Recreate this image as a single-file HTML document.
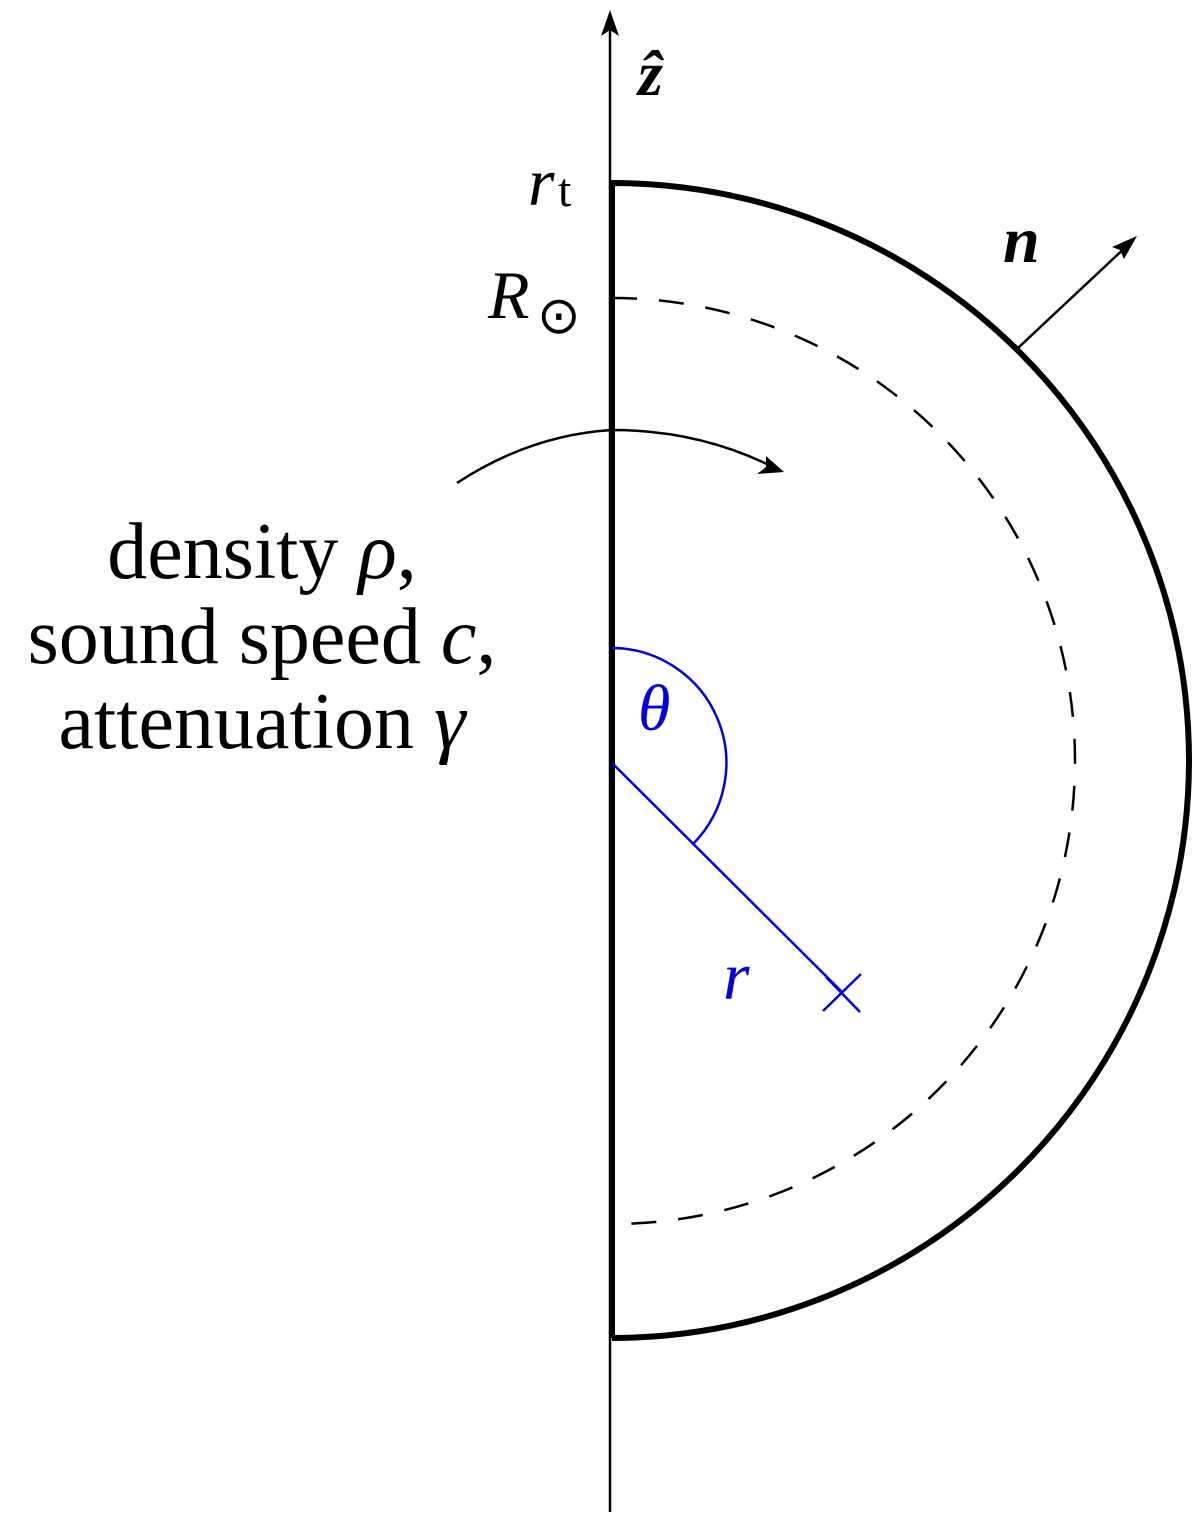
<!DOCTYPE html>
<html><head><style>
html,body{margin:0;padding:0;background:#fff;}
svg{display:block;}
text{font-family:"Liberation Serif","Times New Roman",serif;}
</style></head><body>
<svg width="1200" height="1519" viewBox="0 0 1200 1519" xmlns="http://www.w3.org/2000/svg">
<!-- axis -->
<line x1="610" y1="1512" x2="610" y2="20" stroke="#000" stroke-width="2.5"/>
<polygon points="610,10 601,36 610,30 619,36" fill="#000"/>
<!-- thick boundary -->
<path d="M612,1338 L612,183 A578,578 0 0 1 1189,760.5 A578,578 0 0 1 612,1338" fill="none" stroke="#000" stroke-width="6"/>
<!-- dashed R sun -->
<path d="M612,298 A463,463 0 0 1 1075,761 A463,463 0 0 1 612,1224" fill="none" stroke="#000" stroke-width="2.5" stroke-dasharray="25,22"/>
<!-- normal arrow -->
<line x1="1018" y1="348" x2="1130" y2="243" stroke="#000" stroke-width="2.5"/>
<polygon points="1137,236 1112,247 1120,250 1124,259" fill="#000"/>
<!-- rotation arc -->
<path d="M457,483 Q530,435 612,430 Q700,430 775,468" fill="none" stroke="#000" stroke-width="2.5"/>
<polygon points="784,472 757,474 766,467 766,456" fill="#000"/>
<!-- blue -->
<line x1="612" y1="763" x2="843" y2="993" stroke="#0000e0" stroke-width="2.5"/>
<path d="M612,648 A115,115 0 0 1 693,844" fill="none" stroke="#0000e0" stroke-width="2.5"/>
<line x1="823" y1="1011" x2="861" y2="974" stroke="#0000e0" stroke-width="2.5"/>
<line x1="826" y1="977" x2="860" y2="1012" stroke="#0000e0" stroke-width="2.5"/>
<!-- labels -->
<text x="638" y="95" font-size="64" font-style="italic" font-weight="bold" font-family="Liberation Serif, serif">ẑ</text>
<text x="528" y="205" font-size="68" font-style="italic" font-family="Liberation Serif, serif">r</text>
<text x="558" y="206" font-size="48" font-family="Liberation Serif, serif">t</text>
<text x="488" y="318" font-size="68" font-style="italic" font-family="Liberation Serif, serif">R</text>
<text x="537" y="333" font-size="52" font-family="DejaVu Sans, sans-serif">⊙</text>
<text x="1003" y="262" font-size="66" font-style="italic" font-weight="bold" font-family="Liberation Serif, serif">n</text>
<text x="638" y="730" font-size="66" font-style="italic" fill="#0000e0" font-family="Liberation Serif, serif">θ</text>
<text x="723" y="999" font-size="68" font-style="italic" fill="#0000e0" font-family="Liberation Serif, serif">r</text>
<g font-size="80" text-anchor="middle" font-family="Liberation Serif, serif">
<text x="262" y="578">density <tspan font-style="italic">ρ</tspan>,</text>
<text x="262" y="663">sound speed <tspan font-style="italic">c</tspan>,</text>
<text x="262" y="748">attenuation <tspan font-style="italic">γ</tspan></text>
</g>
</svg>
</body></html>
